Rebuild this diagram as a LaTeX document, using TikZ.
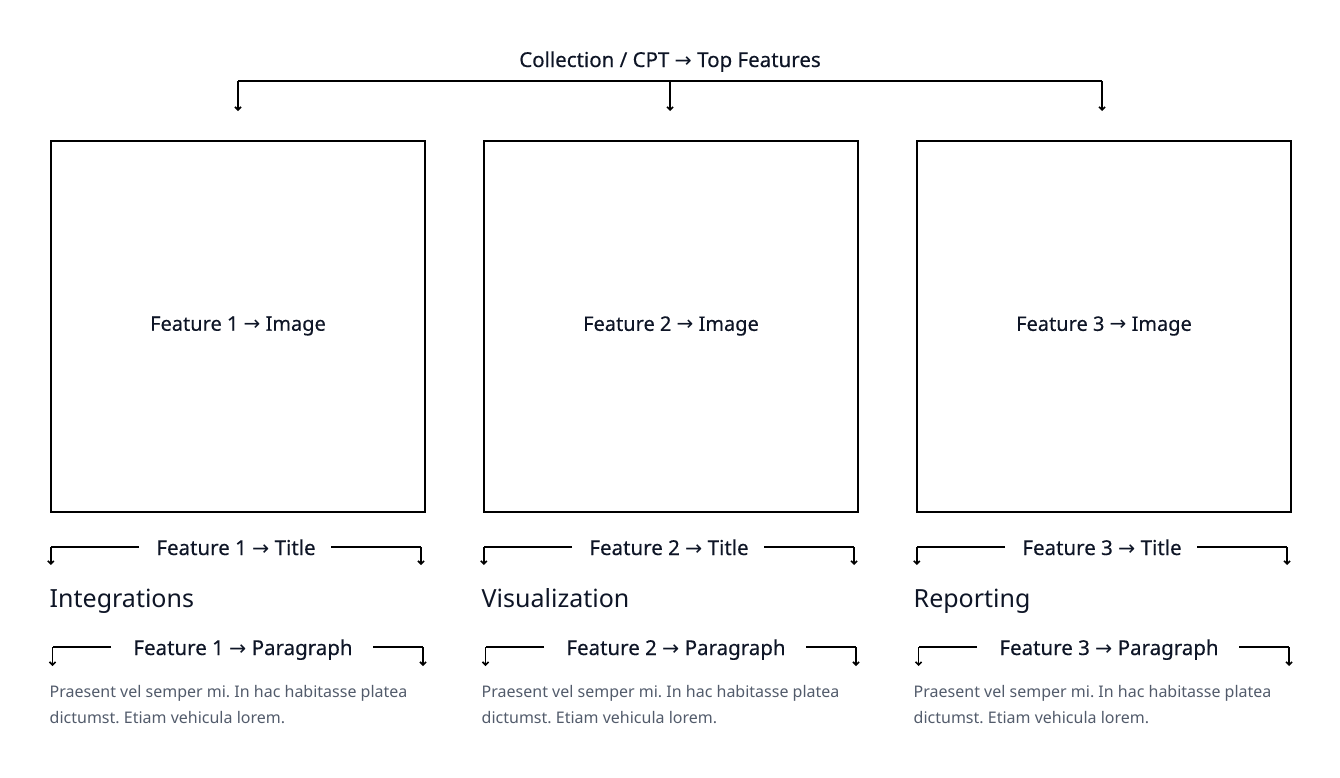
\documentclass[tikz,border=0pt]{standalone}
\usepackage{fontspec}
\setmainfont{Noto Sans}
\newfontfamily\medfont[FakeBold=0.4]{Noto Sans}
\newfontfamily\arrowfont{DejaVu Sans}
\usetikzlibrary{arrows.meta}
\definecolor{ink}{HTML}{0E1526}
\definecolor{para}{HTML}{525B6B}
\newcommand{\rarr}{{\arrowfont\char"2192}}
\frenchspacing
\tikzset{
  lbl/.style={text=ink, inner sep=0pt, font=\medfont\fontsize{20.5}{24}\selectfont},
  head/.style={text=ink, inner sep=0pt, font=\fontsize{25}{28}\selectfont},
  ptext/.style={text=para, inner sep=0pt, font=\fontsize{16}{26}\selectfont},
  box/.style={draw=black, line width=2pt, minimum width=374pt, minimum height=371pt, inner sep=0pt, text=ink, font=\medfont\fontsize{20}{24}\selectfont},
  conn/.style={draw=black, line width=1.6pt},
  arr/.style={draw=black, line width=1.6pt, -{Straight Barb[length=3pt,width=6pt]}},
}
\begin{document}
\begin{tikzpicture}[x=1pt,y=-1pt]
\useasboundingbox (0,0) rectangle (1340,777);
\node[lbl, anchor=base] (top) at (670,67) {Collection / CPT \rarr{} Top Features};
\coordinate (tl) at (238,81);
\coordinate (tm) at (670,81);
\coordinate (tr) at (1102,81);
\coordinate (e1) at (238,111);
\coordinate (e2) at (670,111);
\coordinate (e3) at (1102,111);
\draw[conn] (tl) -- (tr);
\draw[arr] (tl) -- (e1);
\draw[arr] (tm) -- (e2);
\draw[arr] (tr) -- (e3);
\foreach \i/\x/\tx/\h in {1/50/49.5/Integrations, 2/483/481.5/Visualization, 3/916/913.5/Reporting}{
  \node[box] (b\i) at (\x+188,326) {Feature \i{} \rarr{} Image};
  % title bracket
  \node[lbl, anchor=base] (t\i) at (\x+186,555) {Feature \i{} \rarr{} Title};
  \coordinate (tla\i) at (\x+0.8,547);
  \coordinate (tlb\i) at (\x+89,547);
  \coordinate (tlc\i) at (\x+0.8,565);
  \coordinate (tra\i) at (\x+371,547);
  \coordinate (trb\i) at (\x+281,547);
  \coordinate (trc\i) at (\x+371,565);
  \draw[conn] (tlb\i) -- (tla\i);
  \draw[arr] (tla\i) -- (tlc\i);
  \draw[conn] (trb\i) -- (tra\i);
  \draw[arr] (tra\i) -- (trc\i);
  % heading
  \node[head, anchor=base west] (h\i) at (\tx,607) {\h};
  % paragraph bracket
  \node[lbl, anchor=base] (p\i) at (\x+193,655) {Feature \i{} \rarr{} Paragraph};
  \coordinate (pla\i) at (\x+2.5,647);
  \coordinate (plb\i) at (\x+61,647);
  \coordinate (plc\i) at (\x+2.5,666);
  \coordinate (pra\i) at (\x+373,647);
  \coordinate (prb\i) at (\x+323,647);
  \coordinate (prc\i) at (\x+373,666);
  \draw[conn] (plb\i) -- (pla\i);
  \draw[arr] (pla\i) -- (plc\i);
  \draw[conn] (prb\i) -- (pra\i);
  \draw[arr] (pra\i) -- (prc\i);
  % paragraph text
  \node[ptext, anchor=base west] (xa\i) at (\tx,697) {Praesent vel semper mi. In hac habitasse platea};
  \node[ptext, anchor=base west] (xb\i) at (\tx,723) {dictumst. Etiam vehicula lorem.};
}
\end{tikzpicture}
\end{document}
